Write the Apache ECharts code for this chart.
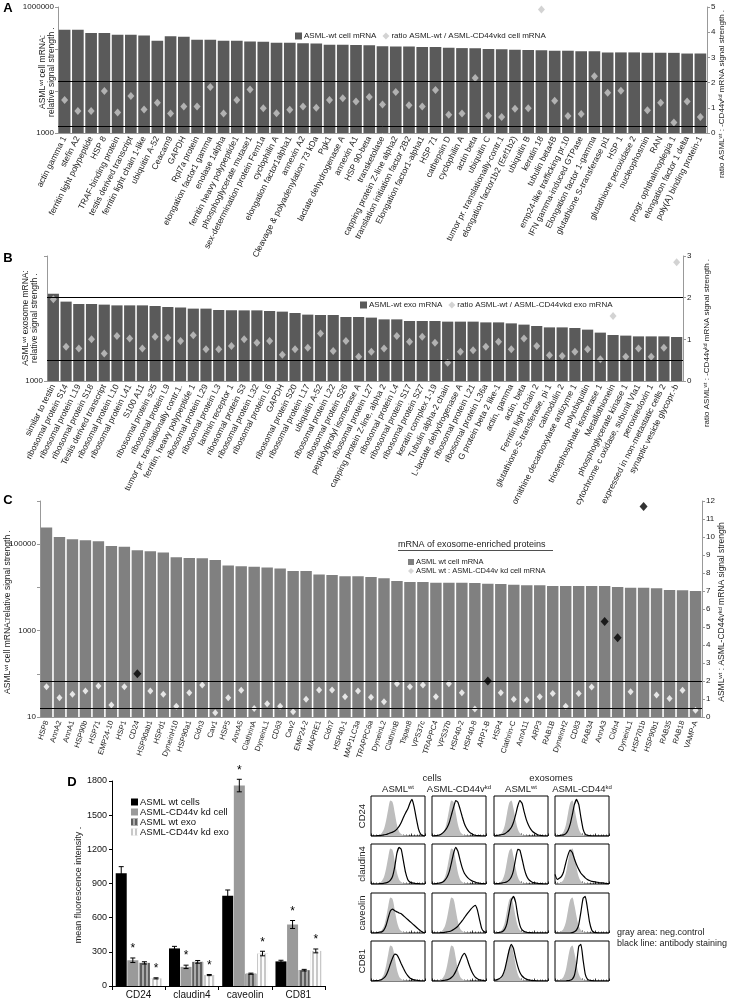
<!DOCTYPE html>
<html><head><meta charset="utf-8">
<script src="https://cdn.jsdelivr.net/npm/echarts@6/dist/echarts.min.js"></script>
<style>html,body{margin:0;padding:0;background:#fff}#c{width:729px;height:1000px}</style>
</head><body><div id="c"></div>
<script>
// ---------- Panel A ----------
const A_CATS = ['actin gamma 1','stefin A2','ferritin light polypeptide','HSP 8','TRAF-binding protein','testis derived transcript','ferritin light chain 1-like','ubiquitin A-52','Ceacam9','GAPDH','Rpl7a protein','elongation factor1 gamma','enolase 1alpha','ferritin heavy polypeptide1','phosphoglycerate mutase1','sex-determination protein Fem1a','cyclophilin A','elongation factor1alpha1','annexin A2','Cleavage & polyadenylation 73 kDa','Pgk1','lactate dehydrogenase A','annexin A1','HSP 90-beta','transketolase','capping protein Z-line alpha2','translation initiation factor 2B2','Elongation factor1-alpha1','HSP 71','cathepsin D','cyclophilin A','actin beta','ubiquitin C','tumor pr. translationally-contr.1','elongation factor1b2 (Eef1b2)','ubiquitin B','keratin 18','tubulin beta4B','emp24-like trafficking pr.10','IFN gamma-induced GTPase','Elongation factor 1-gamma','glutathione S-transferase pi1','HSP 1','glutathione peroxidase 2','nucleophosmin','RAN','progr. ophthalmoplegia 1','elongation factor 1 delta','poly(A) binding protein-1'];
const A_CELL = [288000,288000,240000,240000,219000,219000,209000,158000,200000,195000,166000,166000,158000,158000,151000,148000,141000,141000,138000,135000,126000,126000,125000,123000,117000,115000,114000,112000,112000,107000,105000,104000,100000,98000,96000,95000,93000,91000,91000,89000,89000,83000,83000,83000,81000,81000,81000,78000,78000];
const A_RATIO = [1.31,0.87,0.87,1.67,0.81,1.47,0.93,1.2,0.77,1.05,1.05,1.83,0.77,1.31,1.73,0.98,0.78,0.92,1.05,1.0,1.31,1.38,1.25,1.43,1.13,1.63,1.1,1.05,1.71,0.72,0.77,2.18,0.68,0.63,0.96,0.98,4.9,1.28,0.67,0.75,2.25,1.6,1.68,null,0.9,1.2,0.42,1.25,0.63];
const A_LINES = [2.05, 0.25];

// ---------- Panel B ----------
const B_CATS = ['similar to testin','ribosomal protein S14','ribosomal protein L19','ribosomal protein S18','Testis derived transcript','ribosomal protein L10','ribosomal protein L41','S100 A11','ribosomal protein s25','ribosomal protein L9','tumor pr. translationally contr.1.','ferritin, heavy polypeptide 1','ribosomal protein L29','ribosomal protein L3','laminin receptor 1','ribosomal protein S3','ribosomal protein L32','ribosomal protein L6','GAPDH','ribosomal protein S20','ribosomal protein L17','ubiquitin A-52','ribosomal protein L22','ribosomal protein S26','peptidylprolyl isomerase A','ribosomal protein L27','capping protein Z-line, alpha 2','ribosomal protein L4','ribosomal protein S17','ribosomal protein S27','keratin complex 1-19','Tubulin alpha-2 chain','L-lactate dehydrogenase A','ribosomal protein L21','ribosomal protein L36a','G protein beta 2 like-1','actin, gamma','actin, beta','Ferritin light chain 2','glutathione-S-transferase, pi 1','calmodulin 2','ornithine decarboxylase antizyme 1','polyubiquitin','triosephosphate isomerase 1','Metallothionein','phosphoglycerate kinase 1','cytochrome c oxidase, subunit VIa1','peroxiredoxin 1','expressed in non-metastatic cells 2','synaptic vesicle glycopr.-b'];
const B_EXO = [5000,4315,4130,4130,4083,4027,4027,4027,3981,3908,3864,3793,3793,3698,3673,3673,3673,3631,3589,3499,3396,3373,3373,3251,3251,3214,3112,3112,3020,3020,3020,2985,2985,2985,2944,2944,2891,2825,2754,2685,2685,2655,2576,2438,2333,2307,2275,2275,2275,2249];
const B_RATIO = [1.96,0.82,0.78,1.0,0.66,1.08,1.02,0.78,1.06,1.04,0.96,1.1,0.76,0.76,0.84,1.0,0.92,0.96,0.63,0.76,0.8,1.14,0.72,0.96,0.58,0.7,0.78,1.08,0.94,1.06,0.92,0.44,0.7,0.74,0.82,0.94,0.76,1.02,0.84,0.62,0.6,0.7,0.76,0.52,1.56,0.58,0.78,0.58,0.8,2.85];
const B_LINES = [2, 0.5];

// ---------- Panel C ----------
const C_CATS = ['HSP8','AnnA2','AnnA1','HSP90b','HSP71','EMP24-10','HSP1','CD24','HSP90ab1','HSPd1','DyneinH10','HSP90a1','Cldn3','Cav1','HSP5','AnnA5','ClathrinA','DyneinL1','CD63','Cav2','EMP24-2','MAPRE1','Cldn7','HSP40-1','MAP1LC3a','TRAPPC6a','DyneinL2','ClathrinB','Tspan8','VPS37c','TRAPPC4','VPS37b','HSP40-2','HSP40-8','ARP1-B','HSP4','Clathrin-C','AnnA11','ARP3','RAB1B','DyneinH2','CD83','RAB34','AnnA3','Cldn4','DyneinL1','HSP701b','HSP90b1','RAB35','RAB18','VAMP-A'];
const C_CELL = [242000,147000,130000,124000,117000,91000,87000,72000,69000,64000,50000,48000,47000,43000,32000,31000,30000,29000,27500,24000,24000,20000,19300,18000,18000,17400,16200,14000,13300,13300,12800,12800,12800,12600,12200,12000,11500,11200,11200,10800,10800,10800,10800,10800,10200,9800,9800,9500,8700,8600,8300];
const C_RATIO = [1.68,1.07,1.26,1.44,1.72,0.66,1.68,null,1.44,1.26,0.6,1.35,1.78,0.23,1.07,1.48,0.47,0.73,0.6,0.29,0.98,1.5,1.5,1.12,1.44,1.1,0.85,1.85,1.68,1.78,1.12,1.85,1.35,0.45,null,1.35,0.98,0.94,1.12,1.31,0.6,1.31,1.66,null,null,1.4,null,1.22,1.03,1.48,0.38];
const C_RATIO_SIG = [null,null,null,null,null,null,null,2.4,null,null,null,null,null,null,null,null,null,null,null,null,null,null,null,null,null,null,null,null,null,null,null,null,null,null,2.0,null,null,null,null,null,null,null,null,5.3,4.4,null,11.7,null,null,null,null];
const C_LINES = [2, 0.5];

// ---------- Panel D ----------
const D_CATS = ['CD24','claudin4','caveolin','CD81'];
const D_SERIES = ['ASML wt cells','ASML-CD44v kd cell','ASML wt exo','ASML-CD44v kd exo'];
const D_WT_CELLS = [990, 330, 793, 216];
const D_KD_CELLS = [226, 168, 1760, 540];
const D_WT_EXO = [203, 212, 108, 139];
const D_KD_EXO = [67, 96, 285, 308];
const D_ERR_WT_CELLS = [58, 18, 50, 10];
const D_ERR_KD_CELLS = [20, 15, 55, 35];
const D_ERR_WT_EXO = [10, 12, 5, 7];
const D_ERR_KD_EXO = [5, 5, 20, 17];
const D_STAR_KD_CELLS = [1, 1, 1, 1];
const D_STAR_KD_EXO = [1, 1, 1, 1];
const D_TICKS = [0, 300, 600, 900, 1200, 1500, 1800];

// ---------- Flow cytometry histograms ----------
const FLOW_ROWS = ['CD24','claudin4','caveolin','CD81'];
const FLOW_X = [0,4,8,12,16,20,24,28,32,36,40,44,48,52,56,60,64,68,72,76,80,84,88,92,96,100];
const GRAY_CELLS = [0,0,0,1,3,8,18,40,70,92,88,60,30,12,5,2,1,1,0,0,0,0,0,0,0,0];
const GRAY_EXO = [0,1,2,5,12,28,58,85,92,72,42,18,7,3,1,1,0,0,0,0,0,0,0,0,0,0];
const CD24_WT_CELL = [0,0,0,1,1,2,3,4,6,8,10,13,18,25,35,48,60,70,85,95,75,45,18,5,1,0];
const CD24_KD_CELL = [0,0,1,2,4,8,14,22,35,55,75,92,88,70,50,32,20,12,7,4,2,1,1,0,0,0];
const CD24_WT_EXO = [0,1,2,3,4,6,10,15,22,35,55,78,92,85,62,42,28,18,11,7,4,2,1,0,0,0];
const CD24_KD_EXO = [0,0,1,2,3,6,14,30,55,82,95,82,48,18,5,2,1,0,0,0,0,0,0,0,0,0];
const CLD_WT_CELL = [0,0,0,0,1,1,2,3,5,10,20,45,80,95,90,60,30,12,5,3,2,1,1,0,0,0];
const CLD_KD_CELL = [0,0,1,2,3,5,10,18,32,55,80,95,85,62,42,28,20,14,10,7,5,3,2,1,1,0];
const CLD_WT_EXO = [0,1,1,2,3,4,6,10,18,35,65,90,88,65,40,22,12,7,4,3,2,1,1,0,0,0];
const CLD_KD_EXO = [25,12,15,20,32,55,75,88,82,65,50,38,28,22,16,12,9,7,6,5,4,3,3,2,1,1];
const CAV_WT_CELL = [0,0,0,1,2,3,8,20,40,58,62,58,55,52,50,45,40,35,30,25,20,15,10,5,2,0];
const CAV_KD_CELL = [0,0,0,0,1,1,2,3,4,6,9,13,18,25,32,40,48,55,62,68,72,60,35,12,4,1];
const CAV_WT_EXO = [0,0,1,2,4,10,25,55,85,95,80,45,20,8,4,2,1,1,0,0,0,0,0,0,0,0];
const CAV_KD_EXO = [0,0,0,0,0,0,0,0,1,3,8,22,55,90,95,65,28,8,2,1,0,0,0,0,0,0];
const CD81_WT_CELL = [0,0,1,1,2,4,8,15,28,45,60,70,68,58,45,33,22,14,8,5,3,2,1,0,0,0];
const CD81_KD_CELL = [0,0,0,0,0,1,2,3,5,9,15,25,38,52,65,72,62,45,30,18,10,6,3,2,1,0];
const CD81_WT_EXO = [2,3,5,8,15,30,55,80,95,85,60,38,22,13,8,5,3,2,1,1,0,0,0,0,0,0];
const CD81_KD_EXO = [0,0,0,0,0,0,1,2,5,15,45,90,95,55,18,5,2,1,0,0,0,0,0,0,0,0];

// ================= build =================
const FONT = '"Liberation Sans", Arial, sans-serif';
const TXT = '#222';
const chart = echarts.init(document.getElementById('c'), null, {renderer:'canvas', width:729, height:1000});
const grid = [], xAxis = [], yAxis = [], series = [], graphic = [], legend = [];

const richBase = (fs) => ({
  n: {fontSize: fs, fontFamily: FONT, color: TXT},
  s: {fontSize: Math.round(fs*0.68), fontFamily: FONT, color: TXT, verticalAlign: 'top', padding:[0,0,fs*0.45,0]}
});
function T(x, y, text, o = {}) {
  const fs = o.size || 8;
  graphic.push({type:'text', x, y, rotation: o.rot || 0, z: 100, silent: true,
    style: {text, fill: o.color || TXT, fontSize: fs, fontFamily: FONT, fontWeight: o.bold ? 'bold' : 'normal',
      align: o.align || 'center', verticalAlign: o.va || 'middle', rich: richBase(fs)}});
}
const V = Math.PI / 2;

function logFmt(show) { return v => { const r = Math.round(v); return show.includes(r) ? String(r) : ''; }; }

function barPanel(gi, g, cats, vals, ratio, lines, o) {
  grid.push(g);
  xAxis.push({type:'category', gridIndex: gi, data: cats, axisTick:{show:false},
    axisLine:{show:true, lineStyle:{color:'#999', width:1}},
    axisLabel:{interval:0, rotate:o.rot, fontSize:o.lfs, margin:4, color:TXT, fontFamily:FONT}});
  const yi = yAxis.length;
  yAxis.push({type:'log', logBase:10, gridIndex: gi, min:o.min, max:o.max, startValue:o.min,
    axisLine:{show:true, lineStyle:{color:'#999'}}, axisTick:{show:true, length:3, lineStyle:{color:'#999'}},
    splitLine:{show:false}, minorTick:{show:false},
    axisLabel:{fontSize:8, color:TXT, fontFamily:FONT, margin:4, formatter: logFmt(o.labels), showMinLabel:true, showMaxLabel:true}});
  yAxis.push({type:'value', gridIndex: gi, position:'right', min:0, max:o.rmax, interval:1,
    axisLine:{show:true, lineStyle:{color:'#999'}}, axisTick:{show:true, length:3, lineStyle:{color:'#999'}},
    splitLine:{show:false}, axisLabel:{fontSize:8, color:TXT, fontFamily:FONT, margin:4}});
  series.push({type:'bar', name:o.barName, xAxisIndex: gi, yAxisIndex: yi, data: vals, clip:true,
    barCategoryGap:o.gap, itemStyle:{color:o.barColor}, z:2});
  series.push({type:'scatter', name:o.ratioName, xAxisIndex: gi, yAxisIndex: yi+1, data: ratio,
    symbol:'diamond', symbolSize:o.dsize, itemStyle:{color:o.dColor}, z:4,
    markLine:{silent:true, symbol:'none', label:{show:false}, animation:false,
      lineStyle:{color:'#000', width:1, type:'solid'}, data: lines.map(v => ({yAxis: v}))}});
  return yi;
}

// Panel A
barPanel(0, {left:58, top:7, width:649, height:126}, A_CATS, A_CELL, A_RATIO, A_LINES,
  {rot:63, lfs:8.5, min:1000, max:1000000, labels:[1000,1000000], rmax:5, gap:'12%', barColor:'#5a5a5a',
   barName:'ASML-wt cell mRNA', ratioName:'ratio ASML-wt / ASML-CD44vkd cell mRNA', dsize:[7,8], dColor:'#c8c8c8'});
legend.push({left:290, top:27, itemWidth:7, itemHeight:7, itemGap:6, selectedMode:false,
  textStyle:{fontSize:8, color:TXT, fontFamily:FONT, padding:[0,0,0,-3]},
  data:[{name:'ASML-wt cell mRNA', icon:'rect'}, {name:'ratio ASML-wt / ASML-CD44vkd cell mRNA', icon:'diamond'}]});

// Panel B
barPanel(1, {left:47, top:256, width:636, height:125}, B_CATS, B_EXO, B_RATIO, B_LINES,
  {rot:63, lfs:8.5, min:1000, max:10000, labels:[1000], rmax:3, gap:'12%', barColor:'#5a5a5a',
   barName:'ASML-wt exo mRNA', ratioName:'ratio ASML-wt / ASML-CD44vkd exo mRNA', dsize:[7,8], dColor:'#c8c8c8'});
legend.push({left:355, top:296, itemWidth:7, itemHeight:7, itemGap:6, selectedMode:false,
  textStyle:{fontSize:8, color:TXT, fontFamily:FONT, padding:[0,0,0,-3]},
  data:[{name:'ASML-wt exo mRNA', icon:'rect'}, {name:'ratio ASML-wt / ASML-CD44vkd exo mRNA', icon:'diamond'}]});

// Panel C
const cyi = barPanel(2, {left:40, top:501, width:662, height:216}, C_CATS, C_CELL, C_RATIO, C_LINES,
  {rot:72, lfs:7.5, min:10, max:1000000, labels:[10,1000,100000], rmax:12, gap:'12%', barColor:'#808080',
   barName:'ASML wt cell mRNA', ratioName:'ASML wt : ASML-CD44v kd cell mRNA', dsize:[6,7], dColor:'#ffffff'});
series.push({type:'scatter', name:'sig', xAxisIndex:2, yAxisIndex:cyi+1, data:C_RATIO_SIG,
  symbol:'diamond', symbolSize:[8,9], itemStyle:{color:'#000'}, z:5});
legend.push({left:403, top:553, orient:'vertical', itemWidth:6, itemHeight:6, itemGap:1, selectedMode:false,
  textStyle:{fontSize:7.5, color:TXT, fontFamily:FONT, lineHeight:8, padding:[0,0,0,-3]},
  data:[{name:'ASML wt cell mRNA', icon:'rect'}, {name:'ASML wt : ASML-CD44v kd cell mRNA', icon:'diamond', itemStyle:{color:'#cccccc'}}]});
T(398, 545, '{n|mRNA of exosome-enriched proteins}', {size:9, align:'left'});
graphic.push({type:'line', silent:true, z:100, shape:{x1:398, y1:550.5, x2:553, y2:550.5}, style:{stroke:TXT, lineWidth:0.8}});

// Panel D
const dgi = 3;
grid.push({left:112, top:781, width:213, height:207});
xAxis.push({type:'category', gridIndex:dgi, data:D_CATS, axisLine:{show:true, lineStyle:{color:'#000'}},
  axisTick:{show:true, length:4, lineStyle:{color:'#000'}}, axisLabel:{fontSize:10, color:'#111', fontFamily:FONT, margin:4}});
const dyi = yAxis.length;
yAxis.push({type:'value', gridIndex:dgi, min:D_TICKS[0], max:D_TICKS[D_TICKS.length-1], interval:D_TICKS[1]-D_TICKS[0],
  axisLine:{show:true, lineStyle:{color:'#000'}}, axisTick:{show:true, length:3, lineStyle:{color:'#000'}},
  splitLine:{show:false}, axisLabel:{fontSize:9, color:'#111', fontFamily:FONT, margin:5, formatter: v => String(v)}});
const D_VALS = [D_WT_CELLS, D_KD_CELLS, D_WT_EXO, D_KD_EXO];
const D_ERRS = [D_ERR_WT_CELLS, D_ERR_KD_CELLS, D_ERR_WT_EXO, D_ERR_KD_EXO];
const D_STARS = [[0,0,0,0], D_STAR_KD_CELLS, [0,0,0,0], D_STAR_KD_EXO];
const D_STYLE = [
  {color:'#000000'},
  {color:'#9a9a9a'},
  {color:'#5e5e5e', decal:{symbol:'rect', symbolSize:1, dashArrayX:[1,0], dashArrayY:[2,2], rotation:Math.PI/2, color:'rgba(180,180,180,0.9)'}},
  {color:'#c8c8c8', decal:{symbol:'rect', symbolSize:1, dashArrayX:[1,0], dashArrayY:[2,2], rotation:Math.PI/2, color:'rgba(255,255,255,0.95)'}}
];
const BW = 11, BG = 0.6;
D_VALS.forEach((vals, i) => {
  series.push({type:'bar', name:D_SERIES[i], xAxisIndex:dgi, yAxisIndex:dyi, data:vals,
    barWidth:BW, barGap:(BG/BW*100)+'%', itemStyle:D_STYLE[i], z:2});
});
const D_ERRDATA = [];
D_VALS.forEach((vals, i) => vals.forEach((v, c) => D_ERRDATA.push([c, v, D_ERRS[i][c], i, D_STARS[i][c]])));
series.push({type:'custom', xAxisIndex:dgi, yAxisIndex:dyi, z:6, data:D_ERRDATA, encode:{x:0, y:1},
  renderItem: (params, api) => {
    const c = api.value(0), v = api.value(1), e = api.value(2), si = api.value(3), st = api.value(4);
    const x = api.coord([c, v])[0] + (si - 1.5) * (BW + BG);
    const yt = api.coord([c, v + e])[1], yb = api.coord([c, v - e])[1];
    const ls = {stroke:'#000', lineWidth:1};
    const ch = [
      {type:'line', shape:{x1:x, y1:yt, x2:x, y2:yb}, style:ls},
      {type:'line', shape:{x1:x-2.5, y1:yt, x2:x+2.5, y2:yt}, style:ls},
      {type:'line', shape:{x1:x-2.5, y1:yb, x2:x+2.5, y2:yb}, style:ls}];
    if (st) ch.push({type:'text', x:x, y:yt-3, style:{text:'*', fontSize:12, fontFamily:FONT, fill:'#000', align:'center', verticalAlign:'bottom'}});
    return {type:'group', children:ch};
  }});
legend.push({left:126, top:792, orient:'vertical', itemWidth:7, itemHeight:7, itemGap:0, selectedMode:false,
  textStyle:{fontSize:9.5, color:'#111', fontFamily:FONT, lineHeight:10, padding:[0,0,0,-3]},
  data:D_SERIES.map(n => ({name:n, icon:'rect'}))});

// Flow histograms
const FLOW_BLACK = [
  [CD24_WT_CELL, CD24_KD_CELL, CD24_WT_EXO, CD24_KD_EXO],
  [CLD_WT_CELL, CLD_KD_CELL, CLD_WT_EXO, CLD_KD_EXO],
  [CAV_WT_CELL, CAV_KD_CELL, CAV_WT_EXO, CAV_KD_EXO],
  [CD81_WT_CELL, CD81_KD_CELL, CD81_WT_EXO, CD81_KD_EXO]];
const FLOW_GRAY = [GRAY_CELLS, GRAY_CELLS, GRAY_EXO, GRAY_EXO];
const FX = [371, 432, 494, 555], FY = [796, 844, 893, 941], FW = 54, FH = 40;
for (let r = 0; r < 4; r++) for (let c = 0; c < 4; c++) {
  const gi = grid.length;
  grid.push({left:FX[c], top:FY[r], width:FW, height:FH, show:true, borderColor:'#000', borderWidth:1, backgroundColor:'#fff'});
  xAxis.push({type:'value', gridIndex:gi, min:0, max:100, interval:25,
    axisLine:{show:false}, axisLabel:{show:false}, splitLine:{show:false},
    axisTick:{show:true, inside:true, length:2.5, lineStyle:{color:'#000', width:0.8}},
    minorTick:{show:true, splitNumber:5, length:1.5, lineStyle:{color:'#000', width:0.6}}});
  const yi = yAxis.length;
  yAxis.push({type:'value', gridIndex:gi, min:0, max:104, show:false});
  const pts = (arr) => FLOW_X.map((x, k) => [x, arr[k]]);
  series.push({type:'line', xAxisIndex:gi, yAxisIndex:yi, data:pts(FLOW_GRAY[c]), showSymbol:false, smooth:0.3,
    lineStyle:{width:0}, areaStyle:{color:'#bdbdbd', opacity:1}, z:1, silent:true});
  series.push({type:'line', xAxisIndex:gi, yAxisIndex:yi, data:pts(FLOW_BLACK[r][c]), showSymbol:false, smooth:0.15,
    lineStyle:{width:1.2, color:'#000'}, itemStyle:{color:'#000'}, z:2, silent:true});
}

// ---------- texts ----------
T(8, 8, 'A', {size:13, bold:true, color:'#000'});
T(8, 258, 'B', {size:13, bold:true, color:'#000'});
T(8, 500, 'C', {size:13, bold:true, color:'#000'});
T(72, 782, 'D', {size:13, bold:true, color:'#000'});

T(43, 72, '{n|ASML}{s|wt}{n| cell mRNA:}', {rot:V, size:8.5});
T(52, 72, '{n|relative signal strength .}', {rot:V, size:8.5});
T(722, 94, '{n|ratio ASML}{s|wt}{n| : -CD44v}{s|kd}{n| mRNA signal strength .}', {rot:V, size:8});

T(26, 318, '{n|ASML}{s|wt}{n| exosome mRNA:}', {rot:V, size:8.5});
T(35, 318, '{n|relative signal strength .}', {rot:V, size:8.5});
T(707, 343, '{n|ratio ASML}{s|wt}{n| : -CD44v}{s|kd}{n| mRNA signal strength .}', {rot:V, size:8});

T(8, 612, '{n|ASML}{s|wt}{n| cell mRNA:relative signal strength .}', {rot:V, size:8.5});
T(722, 612, '{n|ASML}{s|wt}{n| : ASML-CD44v}{s|kd}{n| mRNA signal strength}', {rot:V, size:8.5});

T(79, 885, '{n|mean fluorescence intensity .}', {rot:V, size:9});

T(432, 778, '{n|cells}', {size:9.5});
T(551, 778, '{n|exosomes}', {size:9.5});
T(398, 789, '{n|ASML}{s|wt}', {size:9.5});
T(459, 789, '{n|ASML-CD44v}{s|kd}', {size:9.5});
T(521, 789, '{n|ASML}{s|wt}', {size:9.5});
T(582, 789, '{n|ASML-CD44}{s|kd}', {size:9.5});
FLOW_ROWS.forEach((name, r) => T(362, FY[r] + FH/2, '{n|' + name + '}', {rot:V, size:9.5}));
T(617, 933, '{n|gray area: neg.control}', {size:9, align:'left'});
T(617, 944, '{n|black line: antibody staining}', {size:9, align:'left'});

chart.setOption({animation:false, backgroundColor:'#fff', textStyle:{fontFamily:FONT},
  grid, xAxis, yAxis, series, legend, graphic});
</script></body></html>
